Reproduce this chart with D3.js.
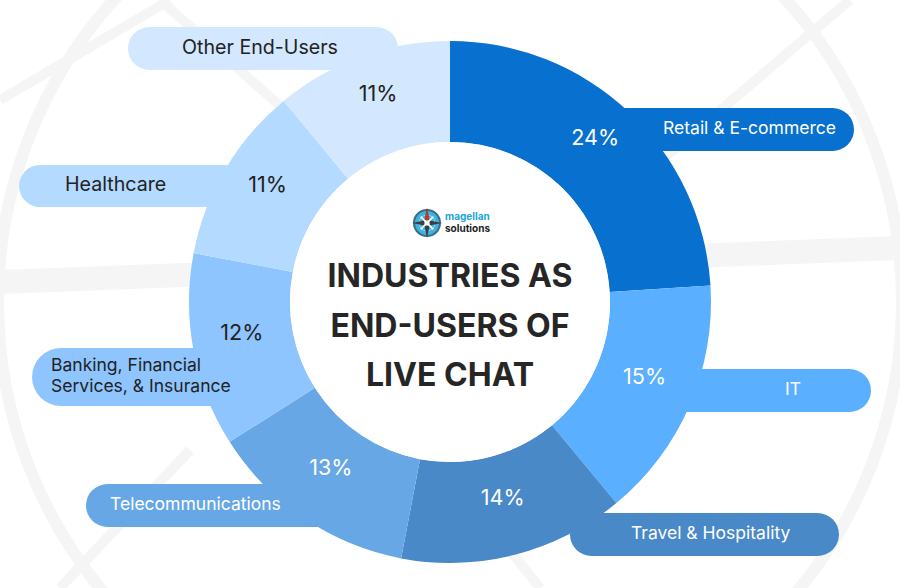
<!DOCTYPE html>
<html>
<head>
<meta charset="utf-8">
<script src="https://cdn.jsdelivr.net/npm/d3@7"></script>
<style>
  body { margin: 0; background: #fff; }
  svg { display: block; font-family: Inter, "Open Sans", "DejaVu Sans", sans-serif; }
</style>
</head>
<body>
<svg width="900" height="588"></svg>
<script>
// data
const industries = ["Retail & E-commerce", "IT", "Travel & Hospitality", "Telecommunications",
  "Banking, Financial Services, & Insurance", "Healthcare", "Other End-Users"];
const shares = [24, 15, 14, 13, 12, 11, 11];
const labelLines = [["Retail & E-commerce"], ["IT"], ["Travel & Hospitality"], ["Telecommunications"],
  ["Banking, Financial", "Services, & Insurance"], ["Healthcare"], ["Other End-Users"]];
const titleLines = ["INDUSTRIES AS", "END-USERS OF", "LIVE CHAT"];

const colors = ["#0870cf", "#5aafff", "#4a89c8", "#67a7e6", "#8fc5ff", "#b4daff", "#d3e7ff"];
const textColors = ["#fff", "#fff", "#fff", "#fff", "#222", "#222", "#222"];

// pill layout (x0, x1, y0, y1, text x)
const pills = [
  { x0: 600, x1: 854, y0: 108, y1: 151, tx: 663 },
  { x0: 620, x1: 871, y0: 369, y1: 412, tx: 785 },
  { x0: 570, x1: 839, y0: 513, y1: 556, tx: 631 },
  { x0: 86, x1: 360, y0: 484, y1: 527, tx: 110 },
  { x0: 32, x1: 262, y0: 348, y1: 406, tx: 51 },
  { x0: 19, x1: 272, y0: 165, y1: 207, tx: 65 },
  { x0: 128, x1: 398, y0: 27, y1: 70, tx: 182 }
];

const cx = 450, cy = 302, outerR = 261, innerR = 160;

const svg = d3.select("svg");

// faint background compass
const bg = svg.append("g").attr("fill", "none").attr("stroke", "#f5f5f5");
bg.append("circle").attr("cx", cx).attr("cy", cy).attr("r", 452).attr("stroke-width", 12);
bg.append("line").attr("x1", 0).attr("y1", 282).attr("x2", 900).attr("y2", 248).attr("stroke-width", 24);
[[0, 100, 170, 0], [160, 0, 330, 150], [850, 0, 650, 170], [60, 588, 190, 450], [540, 588, 470, 500]]
  .forEach(l => bg.append("line").attr("x1", l[0]).attr("y1", l[1]).attr("x2", l[2]).attr("y2", l[3]).attr("stroke-width", 10));

// pills behind the ring
svg.append("g").selectAll("rect").data(pills).join("rect")
  .attr("x", d => d.x0).attr("y", d => d.y0)
  .attr("width", d => d.x1 - d.x0).attr("height", d => d.y1 - d.y0)
  .attr("rx", d => (d.y1 - d.y0) / 2)
  .attr("fill", (d, i) => colors[i]);

// ring
const pie = d3.pie().sort(null).value(d => d);
const arcs = pie(shares);
const arc = d3.arc().innerRadius(innerR).outerRadius(outerR);
const ring = svg.append("g").attr("transform", `translate(${cx},${cy})`);
ring.selectAll("path").data(arcs).join("path")
  .attr("d", arc)
  .attr("fill", (d, i) => colors[i]);

ring.append("circle").attr("r", innerR).attr("fill", "#fff");

// percentages
const labelArc = d3.arc().innerRadius(212).outerRadius(212);
const pct = ring.selectAll("text.pct").data(arcs).join("text")
  .attr("class", "pct")
  .attr("transform", d => { const c = labelArc.centroid(d); return `translate(${c[0]},${c[1] - 10})`; })
  .attr("text-anchor", "middle")
  .attr("dominant-baseline", "central")
  .attr("fill", (d, i) => textColors[i])
  .attr("font-size", 22)
  .text(d => d.data + "%");
const pctW = pct.nodes()[0].getComputedTextLength();
pct.attr("font-size", 22 * 48 / pctW);

// pill labels
const lab = svg.append("g").selectAll("text").data(pills).join("text")
  .attr("fill", (d, i) => textColors[i])
  .attr("font-size", 16)
  .attr("x", d => d.tx);
lab.each(function (d, i) {
  const lines = labelLines[i];
  const mid = (d.y0 + d.y1) / 2 - 2;
  d3.select(this).selectAll("tspan").data(lines).join("tspan")
    .attr("x", d.tx)
    .attr("y", (t, j) => mid + (j - (lines.length - 1) / 2) * 21)
    .attr("dominant-baseline", "central")
    .text(t => t);
});
const telW = lab.nodes()[3].getComputedTextLength();
const labSize = 16 * 171 / telW;
lab.attr("font-size", labSize);
lab.filter((d, i) => i === 5 || i === 6).attr("font-size", labSize * 1.12);

// title
const title = svg.append("g").selectAll("text").data(titleLines).join("text")
  .attr("x", cx)
  .attr("y", (d, i) => 287 + i * 49.5)
  .attr("text-anchor", "middle")
  .attr("font-weight", 700)
  .attr("fill", "#262626")
  .attr("font-size", 28)
  .text(d => d);
const tW = title.nodes()[0].getComputedTextLength();
title.attr("font-size", 28 * 245 / tW);

// logo
const logo = svg.append("g").attr("transform", "translate(427,223)");
logo.append("circle").attr("r", 13).attr("fill", "#3fb2de").attr("stroke", "#3a6d86").attr("stroke-width", 2);
logo.append("circle").attr("r", 8).attr("fill", "none").attr("stroke", "#8fd6f0").attr("stroke-width", 1);
const star = [[0, -15], [2.5, -2.5], [15, 0], [2.5, 2.5], [0, 15], [-2.5, 2.5], [-15, 0], [-2.5, -2.5]];
logo.append("polygon").attr("points", star.map(p => p.join(",")).join(" ")).attr("fill", "#3d3d3d");
logo.append("polygon").attr("points", "0,-15 2.5,-2.5 -2.5,-2.5").attr("fill", "#c8342b");
logo.selectAll("line.d").data([45, 135, 225, 315]).join("line")
  .attr("x1", 0).attr("y1", 0)
  .attr("x2", a => 9 * Math.sin(a * Math.PI / 180))
  .attr("y2", a => -9 * Math.cos(a * Math.PI / 180))
  .attr("stroke", "#fff").attr("stroke-width", 1.6);
logo.append("rect").attr("x", -2.5).attr("y", -2.5).attr("width", 5).attr("height", 5).attr("fill", "#fff");
svg.append("text").attr("x", 445).attr("y", 220).attr("font-size", 10).attr("font-weight", 700)
  .attr("fill", "#1ea5d6").text("magellan");
svg.append("text").attr("x", 445).attr("y", 232).attr("font-size", 10).attr("font-weight", 700)
  .attr("fill", "#1d1d1d").text("solutions");
</script>
</body>
</html>
